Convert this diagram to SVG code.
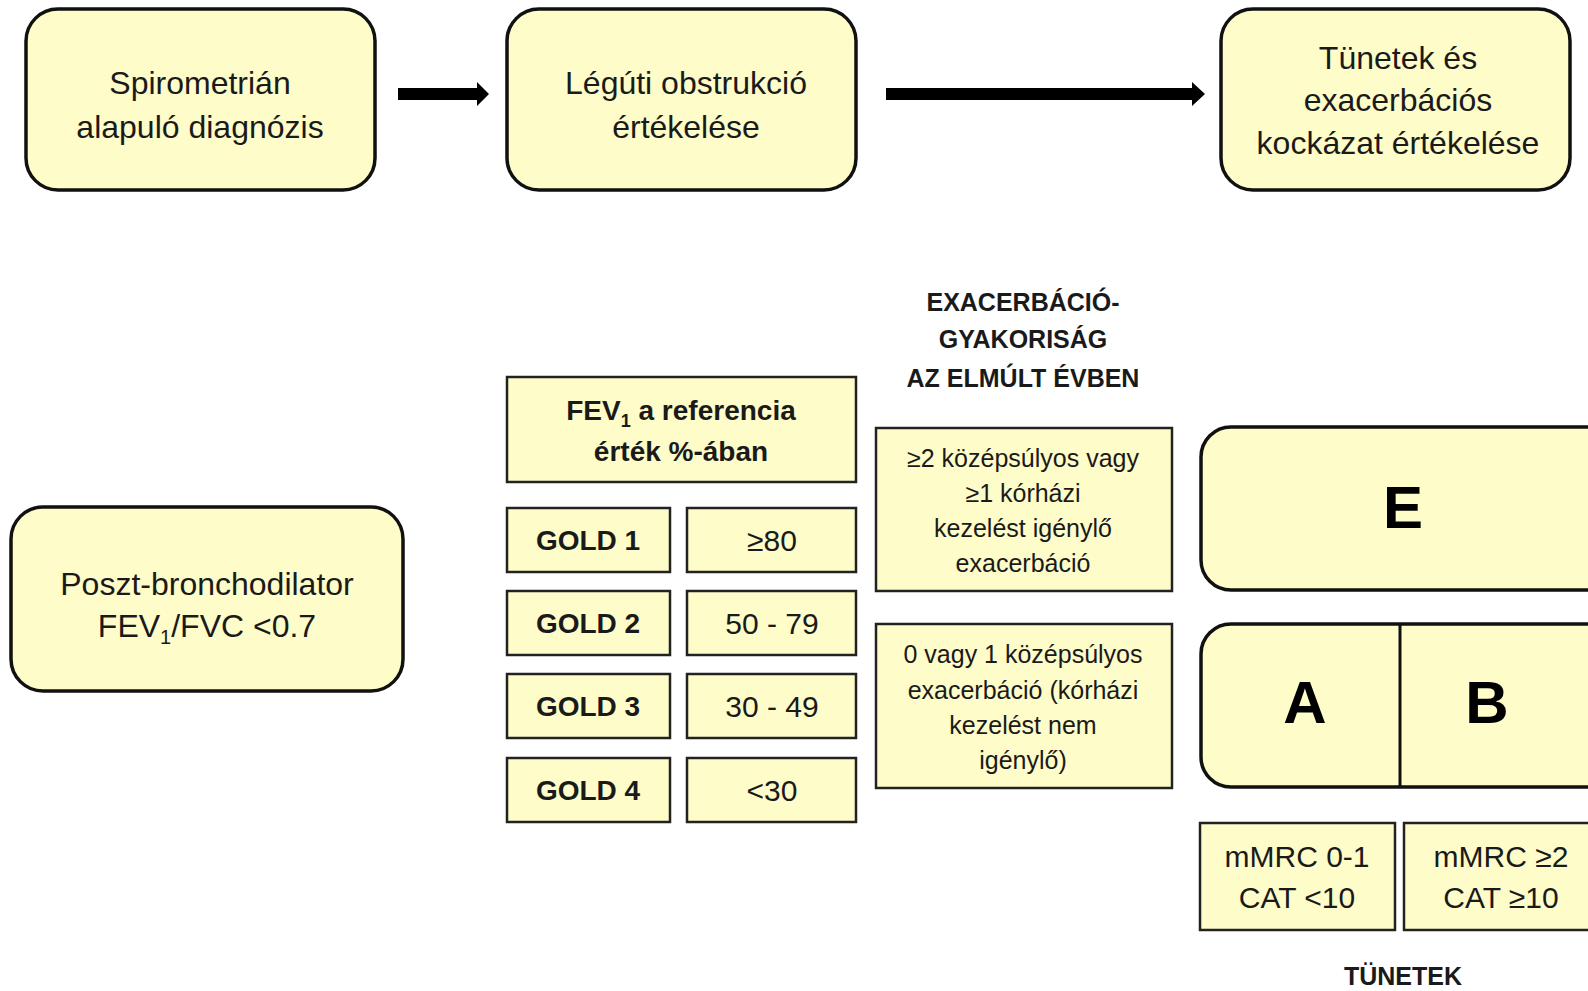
<svg xmlns="http://www.w3.org/2000/svg" width="1588" height="991" viewBox="0 0 1588 991">
<style>
.rb{fill:#FEFCC8;stroke:#111;stroke-width:3.5}
.bx{fill:#FEFCC8;stroke:#222;stroke-width:2.5}
text{font-family:"Liberation Sans",Arial,sans-serif;fill:#1a1a1a;text-anchor:middle}
.t31{font-size:32px}
.t25{font-size:25px}
.t30{font-size:30px}
.b{font-weight:bold}
.big{font-size:60px;font-weight:bold;fill:#000}
.arr{fill:#000}
</style>
<rect width="1588" height="991" fill="#fff"/>
<g id="connectors">
<path class="arr" d="M398 88 H477 V82 L489 94 L477 106 V100 H398 Z"/>
<path class="arr" d="M886 88 H1192 V82 L1205 94 L1192 106 V100 H886 Z"/>
</g>
<g id="n-spiro">
<rect class="rb" x="26" y="9" width="349" height="181" rx="32"/>
<text class="t31" x="200" y="94">Spirometrián</text>
<text class="t31" x="200" y="138">alapuló diagnózis</text>
</g>
<g id="n-legut">
<rect class="rb" x="507" y="9" width="349" height="181" rx="32"/>
<text class="t31" x="686" y="94">Légúti obstrukció</text>
<text class="t31" x="686" y="138">értékelése</text>
</g>
<g id="n-tunetek">
<rect class="rb" x="1221" y="9" width="349" height="181" rx="32"/>
<text class="t31" x="1398" y="69">Tünetek és</text>
<text class="t31" x="1398" y="111">exacerbációs</text>
<text class="t31" x="1398" y="154">kockázat értékelése</text>
</g>
<g id="n-poszt">
<rect class="rb" x="11" y="507" width="392" height="184" rx="32"/>
<text class="t31" x="207" y="595">Poszt-bronchodilator</text>
<text class="t31" x="207" y="637">FEV<tspan font-size="20" dy="7">1</tspan><tspan dy="-7">/FVC &lt;0.7</tspan></text>
</g>
<g id="n-heading">
<text class="t25 b" x="1023" y="311">EXACERBÁCIÓ-</text>
<text class="t25 b" x="1023" y="348">GYAKORISÁG</text>
<text class="t25 b" x="1023" y="387">AZ ELMÚLT ÉVBEN</text>
</g>
<g id="n-fev">
<rect class="bx" x="507" y="377" width="349" height="105"/>
<text class="b" font-size="28" x="681" y="420">FEV<tspan font-size="18" dy="7">1</tspan><tspan dy="-7"> a referencia</tspan></text>
<text class="b" font-size="28" x="681" y="461">érték %-ában</text>
</g>
<g id="n-gold1">
<rect class="bx" x="507" y="508" width="163" height="64"/>
<text class="b" font-size="28" x="588" y="550">GOLD 1</text>
<rect class="bx" x="687" y="508" width="169" height="64"/>
<text class="t30" x="772" y="551">≥80</text>
</g>
<g id="n-gold2">
<rect class="bx" x="507" y="591" width="163" height="64"/>
<text class="b" font-size="28" x="588" y="633">GOLD 2</text>
<rect class="bx" x="687" y="591" width="169" height="64"/>
<text class="t30" x="772" y="634">50 - 79</text>
</g>
<g id="n-gold3">
<rect class="bx" x="507" y="674" width="163" height="64"/>
<text class="b" font-size="28" x="588" y="716">GOLD 3</text>
<rect class="bx" x="687" y="674" width="169" height="64"/>
<text class="t30" x="772" y="717">30 - 49</text>
</g>
<g id="n-gold4">
<rect class="bx" x="507" y="758" width="163" height="64"/>
<text class="b" font-size="28" x="588" y="800">GOLD 4</text>
<rect class="bx" x="687" y="758" width="169" height="64"/>
<text class="t30" x="772" y="801">&lt;30</text>
</g>
<g id="n-exa2">
<rect class="bx" x="876" y="428" width="296" height="163"/>
<text class="t25" x="1023" y="467">≥2 középsúlyos vagy</text>
<text class="t25" x="1023" y="502">≥1 kórházi</text>
<text class="t25" x="1023" y="537">kezelést igénylő</text>
<text class="t25" x="1023" y="572">exacerbáció</text>
</g>
<g id="n-exa0">
<rect class="bx" x="876" y="624" width="296" height="164"/>
<text class="t25" x="1023" y="663">0 vagy 1 középsúlyos</text>
<text class="t25" x="1023" y="699">exacerbáció (kórházi</text>
<text class="t25" x="1023" y="734">kezelést nem</text>
<text class="t25" x="1023" y="769">igénylő)</text>
</g>
<g id="n-E">
<rect class="rb" x="1201" y="427" width="420" height="163" rx="30"/>
<text class="big" x="1403" y="528">E</text>
</g>
<g id="n-AB">
<rect class="rb" x="1201" y="624" width="420" height="163" rx="30"/>
<line x1="1400" y1="624" x2="1400" y2="787" stroke="#111" stroke-width="3"/>
<text class="big" x="1305" y="723">A</text>
<text class="big" x="1487" y="723">B</text>
</g>
<g id="n-mmrc1">
<rect class="bx" x="1200" y="823" width="195" height="107"/>
<text class="t30" x="1297" y="867">mMRC 0-1</text>
<text class="t30" x="1297" y="908">CAT &lt;10</text>
</g>
<g id="n-mmrc2">
<rect class="bx" x="1404" y="823" width="200" height="107"/>
<text class="t30" x="1501" y="867">mMRC ≥2</text>
<text class="t30" x="1501" y="908">CAT ≥10</text>
</g>
<g id="n-tunetek-label">
<text class="t25 b" x="1403" y="985">TÜNETEK</text>
</g>
</svg>
